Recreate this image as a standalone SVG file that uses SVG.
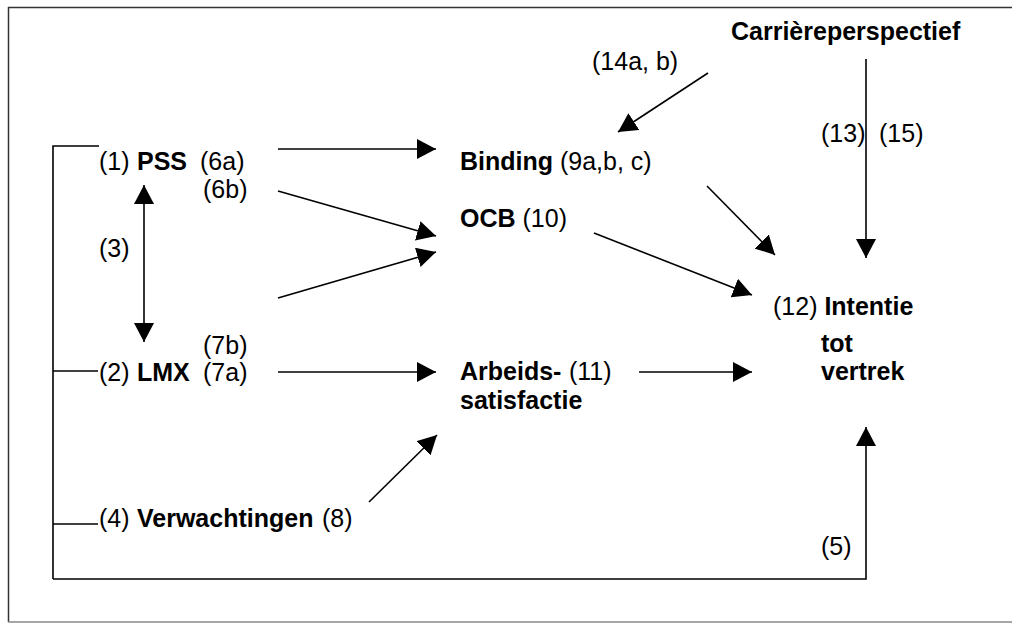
<svg xmlns="http://www.w3.org/2000/svg" width="1012" height="623" viewBox="0 0 1012 623">
<defs>
<style>
text{font-family:"Liberation Sans",Arial,sans-serif;font-size:25px;fill:#000}
.b{font-weight:bold}
.ln{stroke:#000;stroke-width:1.6;fill:none}
.ar{stroke:#000;stroke-width:1.6;fill:none;marker-end:url(#ah)}
</style>
<marker id="ah" markerUnits="userSpaceOnUse" markerWidth="20" markerHeight="20" refX="19" refY="10" orient="auto">
<path d="M0,0 L19,10 L0,20 z" fill="#000"/>
</marker>
</defs>
<rect width="1012" height="623" fill="#fff"/>
<g id="frame">
<line x1="8" y1="7.5" x2="1012" y2="7.5" stroke="#333" stroke-width="1.5"/>
<line x1="8.5" y1="7" x2="8.5" y2="622" stroke="#333" stroke-width="1.5"/>
<line x1="8" y1="622" x2="1012" y2="622" stroke="#888" stroke-width="1.5"/>
</g>
<g id="connectors">
<polyline class="ln" points="99,146 53,146 53,579"/>
<line class="ln" x1="53" y1="371" x2="98" y2="371"/>
<line class="ln" x1="53" y1="524" x2="98" y2="524"/>
<polyline class="ar" points="53,579 866,579 866,427"/>
<line class="ar" x1="144" y1="250" x2="144" y2="185"/>
<line class="ar" x1="144" y1="250" x2="144" y2="342"/>
<line class="ar" x1="278" y1="149" x2="436" y2="149"/>
<line class="ar" x1="278" y1="191" x2="436" y2="236"/>
<line class="ar" x1="278" y1="298" x2="436" y2="252"/>
<line class="ar" x1="278" y1="372" x2="436" y2="372"/>
<line class="ar" x1="369" y1="502" x2="437" y2="435"/>
<line class="ar" x1="708" y1="73" x2="618" y2="132"/>
<line class="ar" x1="866" y1="59" x2="866" y2="258"/>
<line class="ar" x1="707" y1="186" x2="775" y2="255"/>
<line class="ar" x1="594" y1="233" x2="752" y2="295"/>
<line class="ar" x1="639" y1="372" x2="752" y2="372"/>
</g>
<g id="labels">
<text x="99" y="257">(3)</text>
<text x="203" y="198">(6b)</text>
<text x="203" y="354">(7b)</text>
<text x="592" y="70">(14a, b)</text>
<text x="821" y="142">(13)</text>
<text x="879" y="142">(15)</text>
<text x="821" y="555">(5)</text>
</g>
<g id="node-pss">
<text x="99" y="170">(1)</text>
<text x="137" y="170" class="b">PSS</text>
<text x="200" y="170">(6a)</text>
</g>
<g id="node-lmx">
<text x="99" y="381">(2)</text>
<text x="137" y="381" class="b">LMX</text>
<text x="203" y="381">(7a)</text>
</g>
<g id="node-verwachtingen">
<text x="99" y="527">(4)</text>
<text x="137" y="527" class="b">Verwachtingen</text>
<text x="322" y="527">(8)</text>
</g>
<g id="node-binding">
<text x="460" y="170"><tspan class="b">Binding</tspan> (9a,b, c)</text>
</g>
<g id="node-ocb">
<text x="460" y="227"><tspan class="b">OCB</tspan> (10)</text>
</g>
<g id="node-arbeids">
<text x="460" y="380" class="b">Arbeids-</text>
<text x="569" y="380">(11)</text>
<text x="460" y="409" class="b">satisfactie</text>
</g>
<g id="node-intentie">
<text x="773" y="315">(12) <tspan class="b">Intentie</tspan></text>
<text x="821" y="352" class="b">tot</text>
<text x="821" y="380" class="b">vertrek</text>
</g>
<g id="node-carriere">
<text x="731" y="40" class="b">Carrièreperspectief</text>
</g>
</svg>
